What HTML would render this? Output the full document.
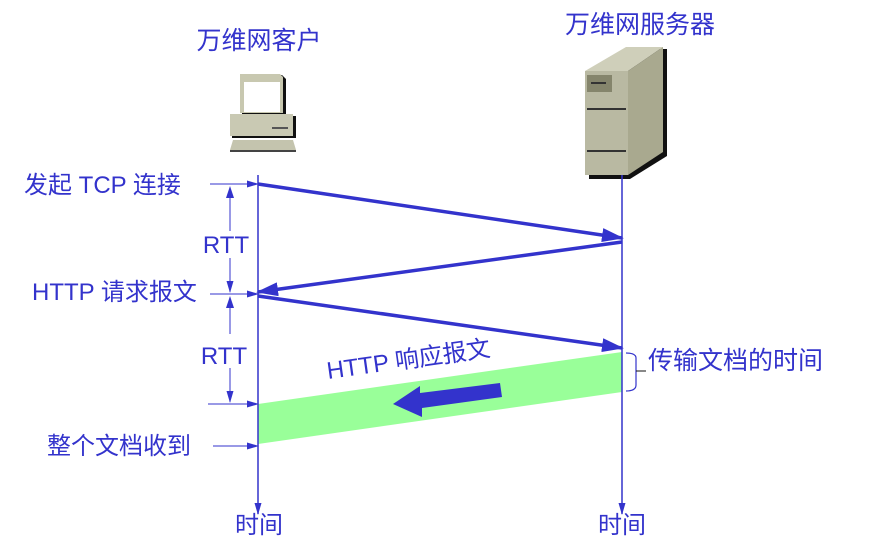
<!DOCTYPE html>
<html><head><meta charset="utf-8"><style>
body{margin:0;background:#fff;}
svg text{font-family:"Liberation Sans","Noto Sans CJK SC",sans-serif;fill:#3333cc;}
</style></head><body>
<svg width="869" height="545" viewBox="0 0 869 545" xmlns="http://www.w3.org/2000/svg">
<defs>
<marker id="a" markerWidth="12" markerHeight="8" refX="11" refY="4" orient="auto" markerUnits="userSpaceOnUse"><path d="M0,0.5 L12,4 L0,7.5 z" fill="#3333cc"/></marker>
<marker id="b" markerWidth="22" markerHeight="14" refX="20" refY="7" orient="auto" markerUnits="userSpaceOnUse"><path d="M0,0 L22,7 L0,14 z" fill="#3333cc"/></marker>
</defs>
<g>
<path d="M242,75 L282,75 L286,79 L286,115 L242,115 z" fill="#111"/>
<path d="M240,74 L280,74 L283,77 L283,113 L240,113 z" fill="#c8c8b0"/>
<rect x="244" y="82" width="36" height="30" fill="#fff"/>
<rect x="232" y="116" width="64" height="22" fill="#111"/>
<rect x="230" y="114" width="63" height="22" fill="#c9c9b3"/>
<rect x="272" y="127" width="16" height="2" fill="#555"/>
<path d="M233,140 L293,140 L296,150 L230,150 z" fill="#c4c4ae"/>
<path d="M230,150 L296,150 L296,152 L230,152 z" fill="#444"/>
</g>
<g>
<path d="M587,71 L628,47 L665,47 L665,154 L628,177 L587,177 z" fill="#111" transform="translate(2,2)"/>
<path d="M585,71 L626,47 L663,47 L628,71 z" fill="#cfcfba"/>
<path d="M628,71 L663,47 L663,152 L628,175 z" fill="#a9a98f"/>
<rect x="585" y="71" width="43" height="104" fill="#b9b9a2"/>
<rect x="587" y="75" width="25" height="17" fill="#85856c"/>
<rect x="591" y="82" width="15" height="2" fill="#333"/>
<rect x="587" y="108" width="39" height="2" fill="#333"/>
<rect x="587" y="150" width="39" height="2" fill="#333"/>
</g>
<polygon points="258,404 622,352 622,392 258,444" fill="#99ff99"/>
<line x1="258" y1="175" x2="258" y2="514" stroke="#3333cc" stroke-width="1.5" marker-end="url(#a)"/>
<line x1="622" y1="175" x2="622" y2="514" stroke="#3333cc" stroke-width="1.5" marker-end="url(#a)"/>
<line x1="258" y1="184" x2="622" y2="238" stroke="#3333cc" stroke-width="3.5" marker-end="url(#b)"/>
<line x1="622" y1="242" x2="258" y2="292" stroke="#3333cc" stroke-width="3.5" marker-end="url(#b)"/>
<line x1="258" y1="296" x2="622" y2="348" stroke="#3333cc" stroke-width="3.5" marker-end="url(#b)"/>
<polygon points="393,404 420,386 420,393 500,383 502,397 422,408 422,417" fill="#3333cc"/>
<g stroke="#3333cc" stroke-width="1">
<line x1="210" y1="184" x2="258" y2="184" marker-end="url(#a)"/>
<line x1="210" y1="294" x2="258" y2="294" marker-end="url(#a)"/>
<line x1="208" y1="404" x2="258" y2="404" marker-end="url(#a)"/>
<line x1="213" y1="446" x2="258" y2="446" marker-end="url(#a)"/>
<line x1="230" y1="190" x2="230" y2="231"/>
<line x1="230" y1="258" x2="230" y2="292" marker-end="url(#a)"/>
<line x1="230" y1="300" x2="230" y2="334"/>
<line x1="230" y1="368" x2="230" y2="402" marker-end="url(#a)"/>
</g>
<path d="M226,198 L230,186 L234,198 z" fill="#3333cc"/>
<path d="M226,308 L230,296 L234,308 z" fill="#3333cc"/>
<path d="M626,353 Q636,353 636,358 L636,385 Q636,391 626,391" fill="none" stroke="#3333cc" stroke-width="1.2"/>
<line x1="636" y1="371" x2="646" y2="371" stroke="#111" stroke-width="1"/>
<text x="259" y="49" font-size="25" text-anchor="middle">万维网客户</text>
<text x="640" y="33" font-size="25" text-anchor="middle">万维网服务器</text>
<text x="24" y="193" font-size="24">发起 TCP 连接</text>
<text x="226" y="253" font-size="24" text-anchor="middle">RTT</text>
<text x="32" y="300" font-size="24">HTTP 请求报文</text>
<text x="224" y="364" font-size="24" text-anchor="middle">RTT</text>
<text x="47" y="454" font-size="24">整个文档收到</text>
<text x="648" y="369" font-size="25">传输文档的时间</text>
<text x="0" y="0" font-size="24" transform="translate(328,379) rotate(-8)">HTTP 响应报文</text>
<text x="259" y="533" font-size="24" text-anchor="middle">时间</text>
<text x="622" y="533" font-size="24" text-anchor="middle">时间</text>
</svg>
</body></html>
